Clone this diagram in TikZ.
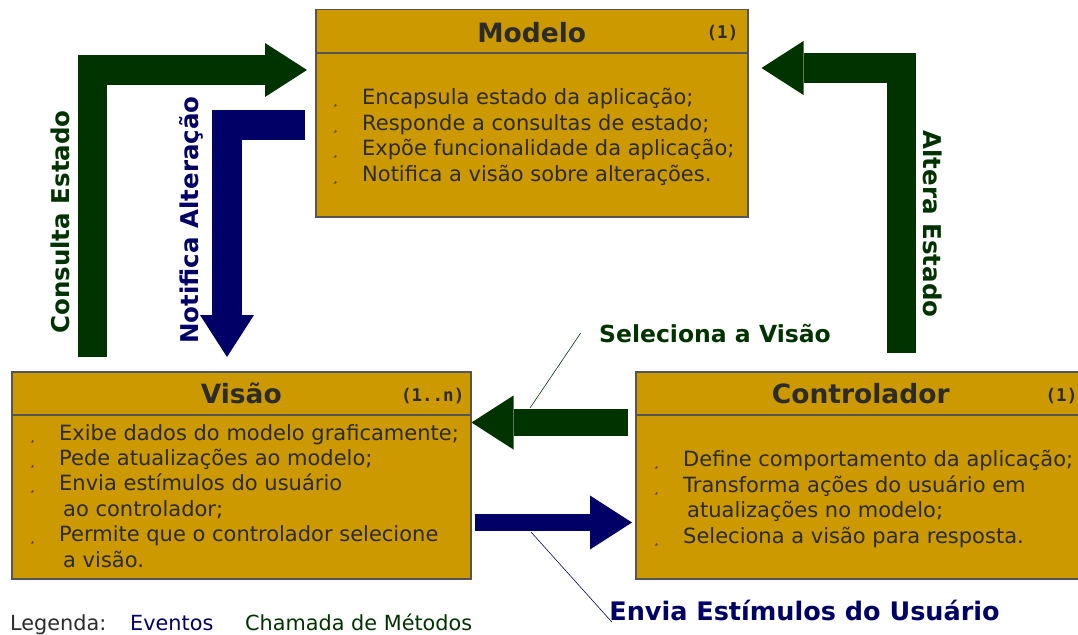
\documentclass[tikz,border=0pt]{standalone}
\usepackage{fontspec}
\setmainfont{DejaVu Sans}
\setmonofont{DejaVu Sans Mono}
\usetikzlibrary{arrows.meta}
\definecolor{boxgold}{HTML}{CC9900}
\definecolor{boxedge}{HTML}{555555}
\definecolor{inkgray}{HTML}{2B2B2B}
\definecolor{callgreen}{HTML}{003300}
\definecolor{eventblue}{HTML}{000066}
\newcommand{\bul}{\makebox[30pt][l]{\fontsize{13}{13}\selectfont ¸}}
\tikzset{
% boxes of the three parts and the texts inside them
class box/.style={rectangle,draw=boxedge,fill=boxgold,line width=1.5pt,anchor=north west,minimum height=207pt,inner sep=0pt},
title text/.style={font=\fontsize{26.5}{30}\selectfont\bfseries,text=inkgray,anchor=base},
mult text/.style={font=\fontsize{17.5}{19}\selectfont\ttfamily\bfseries,text=inkgray,anchor=base east,inner sep=0pt},
% body texts are placed by the baseline of their last line
body text/.style={font=\fontsize{21}{25.4}\selectfont,text=inkgray,align=left,anchor=base west,inner sep=0pt},
% fat arrows: green for method calls, blue for events
fat arrow/.style={line width=#1,-{Triangle[length=42pt,width=54pt,line width=0pt]}},
call arrow/.style={fat arrow=#1,draw=callgreen},
event arrow/.style={fat arrow=#1,draw=eventblue},
arrow label/.style={font=\fontsize{24.5}{28}\selectfont\bfseries,anchor=base},
pointer/.style={line width=0.6pt},
legend text/.style={font=\fontsize{20.8}{24}\selectfont,anchor=base west,inner sep=0pt}
}

\begin{document}
\begin{tikzpicture}[x=1pt,y=-1pt]
\useasboundingbox (0,0) rectangle (1078,634);

% the three parts
\node[class box,minimum width=432pt] (modelo) at (315,9) {};
\node[class box,minimum width=459pt] (visao) at (11,371) {};
\node[class box,minimum width=450pt] (ctrl) at (635,371) {};
\foreach \b in {modelo,visao,ctrl}
  \draw[boxedge,line width=1.5pt] ([yshift=-44pt]\b.north west) -- ([yshift=-44pt]\b.north east);

\node[title text] (modeloT) at ([yshift=-33pt]modelo.north) {Modelo};
\node[title text] (visaoT) at ([yshift=-32pt]visao.north) {Visão};
\node[title text] (ctrlT) at ([yshift=-32pt]ctrl.north) {Controlador};
\node[mult text] (modeloM) at ([xshift=-10pt,yshift=-30pt]modelo.north east) {(1)};
\node[mult text] (visaoM) at ([xshift=-7pt,yshift=-30pt]visao.north east) {(1..n)};
\node[mult text] (ctrlM) at ([xshift=-9pt,yshift=-30pt]ctrl.north east) {(1)};

\node[body text] (modeloB) at (332,181) {\bul Encapsula estado da aplicação;\\
  \bul Responde a consultas de estado;\\
  \bul Expõe funcionalidade da aplicação;\\
  \bul Notifica a visão sobre alterações.};
\node[body text] (visaoB) at (29,567) {\bul Exibe dados do modelo graficamente;\\
  \bul Pede atualizações ao modelo;\\
  \bul Envia estímulos do usuário\\
  \hspace*{34pt}ao controlador;\\
  \bul Permite que o controlador selecione\\
  \hspace*{34pt}a visão.};
\node[body text] (ctrlB) at (653,543) {\bul Define comportamento da aplicação;\\
  \bul Transforma ações do usuário em\\
  \hspace*{34pt}atualizações no modelo;\\
  \bul Seleciona a visão para resposta.};

% method calls
\draw[call arrow=29pt,shorten <=14pt,shorten >=8pt] (visao.north -| 92,0) |- (modelo.west |- 0,70);
\draw[call arrow=29pt,shorten <=18pt,shorten >=13pt] (ctrl.north -| 901,0) |- (modelo.east |- 0,68);
\draw[call arrow=27pt,shorten <=7pt] (ctrl.west |- 0,422.5) -- (visao.east |- 0,422.5);
% events
\draw[event arrow=30pt,shorten <=10pt,shorten >=14pt] (modelo.west |- 0,125) -| (visao.north -| 227,0);
\draw[event arrow=17pt,shorten <=3pt,shorten >=3pt] (visao.east |- 0,522.5) -- (ctrl.west |- 0,522.5);

\node[arrow label,text=callgreen,rotate=90] (consultaL) at (69,222) {Consulta Estado};
\node[arrow label,text=eventblue,rotate=90] (notificaL) at (198,220) {Notifica Alteração};
\node[arrow label,text=callgreen,rotate=-90] (alteraL) at (923,224) {Altera Estado};

\node[arrow label,text=callgreen,font=\fontsize{23.5}{27}\selectfont\bfseries] (selL) at (715,342) {Seleciona a Visão};
\node[arrow label,text=eventblue,font=\fontsize{25.5}{29}\selectfont\bfseries] (enviaL) at (804.5,620) {Envia Estímulos do Usuário};
\coordinate (selP) at (530,408);
\coordinate (enviaP) at (531,532);
\draw[pointer,callgreen] (selP) -- ([xshift=-15pt]selL.west);
\draw[pointer,eventblue] (enviaP) -- ([xshift=6pt,yshift=-12pt]enviaL.west);

% legend
\node[legend text,text=inkgray] (legL) at (10,630) {Legenda:};
\node[legend text,text=eventblue] (legE) at (130,630) {Eventos};
\node[legend text,text=callgreen] (legC) at (245,630) {Chamada de Métodos};
\end{tikzpicture}
\end{document}
